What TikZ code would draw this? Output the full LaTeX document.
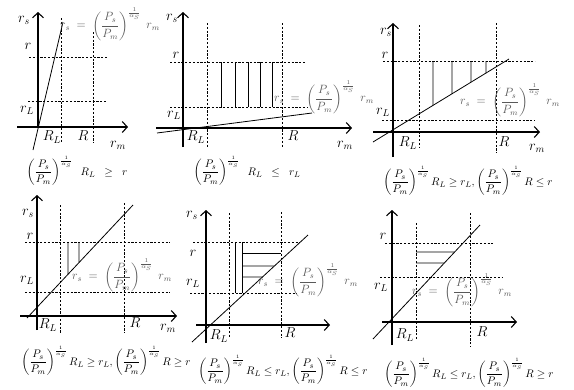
\documentclass[tikz,border=0pt]{standalone}
\usepackage{amsmath}
\usetikzlibrary{arrows.meta}
\tikzset{
  axis/.style={line width=1.1pt,-{Straight Barb[length=5pt,width=11pt,line width=1.1pt]}},
  guide/.style={line width=0.6pt,dash pattern=on 2.2pt off 1.6pt},
  curve/.style={line width=0.8pt},
  hatch/.style={line width=0.8pt},
  lab/.style={inner sep=0pt,font=\Large},
  eq/.style={inner sep=0pt,text=black!65,font=\fontsize{11.5}{13}\selectfont},
  cond/.style={inner sep=0pt,font=\fontsize{11}{13}\selectfont}
}
\newcommand{\rseq}{$r_s \;=\; \left(\dfrac{P_s}{P_m}\right)^{\frac{1}{\alpha_S}}\; r_m$}
\newcommand{\frc}{\left(\dfrac{P_s}{P_m}\right)^{\frac{1}{\alpha_S}}}
\begin{document}
\begin{tikzpicture}[x=1pt,y=-1pt]
\useasboundingbox (0,0) rectangle (574,389);
% ---------------- Panel 1
\draw[guide] (29,57) -- (107,57);
\draw[guide] (28,101) -- (107,101);
\draw[guide] (61,18) -- (61,143);
\draw[guide] (93,32) -- (93,143);
\draw[axis] (38,128) -- (38,12);
\draw[axis] (17,127) -- (128,127);
\coordinate (a1) at (33,150); \coordinate (b1) at (63,22);
\draw[curve] (a1) -- (b1);
\node[lab] (p1rs) at (24,20) {$r_s$};
\node[lab] (p1r) at (28,46) {$r$};
\node[lab] (p1rL) at (27,110) {$r_L$};
\node[lab] (p1RL) at (52,137) {$R_L$};
\node[lab] (p1R) at (83,136) {$R$};
\node[lab] (p1rm) at (118,145) {$r_m$};
\node[eq] (p1eq) at (110,24) {\rseq};
\node[cond] (p1c) at (77,171) {$\frc \;\; R_L \;\;\ge\;\; r$};
% ---------------- Panel 2
\draw[guide] (170,62) -- (305,62);
\draw[guide] (170,107) -- (308,107);
\draw[guide] (207,23) -- (207,148);
\draw[guide] (282,23) -- (282,148);
\foreach \x in {221,235,248,260,272} \draw[hatch] (\x,62) -- (\x,107);
\draw[axis] (183,147) -- (183,12);
\draw[axis] (156,128) -- (352,128);
\coordinate (a2) at (157,133); \coordinate (b2) at (312,113);
\draw[curve] (a2) -- (b2);
\node[lab] (p2rs) at (172,18) {$r_s$};
\node[lab] (p2r) at (176,55) {$r$};
\node[lab] (p2rL) at (174,115) {$r_L$};
\node[lab] (p2RL) at (196,137) {$R_L$};
\node[lab] (p2R) at (293,136) {$R$};
\node[lab] (p2rm) at (345,145) {$r_m$};
\node[eq] (p2eq) at (324,97) {\rseq};
\node[cond] (p2c) at (247,171) {$\frc \;\; R_L \;\;\le\;\; r_L$};
% ---------------- Panel 3
\draw[guide] (383,61) -- (535,61);
\draw[guide] (382,120) -- (535,120);
\draw[guide] (419,25) -- (419,147);
\draw[guide] (496,23) -- (496,153);
\coordinate (a3) at (373,142); \coordinate (b3) at (509,59);
\foreach \x in {433,452,471,486}
  \draw[hatch] (\x,61) -- (intersection of a3--b3 and {\x,61}--{\x,200});
\draw[axis] (393,157) -- (393,23);
\draw[axis] (373,132) -- (540,132);
\draw[curve] (a3) -- (b3);
\node[lab] (p3rs) at (386,32) {$r_s$};
\node[lab] (p3r) at (385,55) {$r$};
\node[lab] (p3rL) at (383,112) {$r_L$};
\node[lab] (p3RL) at (408,143) {$R_L$};
\node[lab] (p3R) at (504,142) {$R$};
\node[lab] (p3rm) at (537,148) {$r_m$};
\node[eq] (p3eq) at (510,100) {\rseq};
\node[cond] (p3c) at (468,181) {$\frc R_L \ge r_L, \frc R \le r$};
% ---------------- Panel 4
\draw[guide] (25,242) -- (170,242);
\draw[guide] (25,292) -- (170,292);
\draw[guide] (60,205) -- (60,333);
\draw[guide] (124,203) -- (124,333);
\coordinate (a4) at (27,318); \coordinate (b4) at (133,205);
\foreach \x in {68,79}
  \draw[hatch] (\x,242) -- (intersection of a4--b4 and {\x,242}--{\x,330});
\draw[axis] (37,330) -- (37,195);
\draw[axis] (20,316) -- (177,316);
\draw[curve] (a4) -- (b4);
\node[lab] (p4rs) at (28,213) {$r_s$};
\node[lab] (p4r) at (30,236) {$r$};
\node[lab] (p4rL) at (27,280) {$r_L$};
\node[lab] (p4RL) at (48,325) {$R_L$};
\node[lab] (p4R) at (135,323) {$R$};
\node[lab] (p4rm) at (168,328) {$r_m$};
\node[eq] (p4eq) at (122,275) {\rseq};
\node[cond] (p4c) at (106,361) {$\frc R_L \ge r_L, \frc R \ge r$};
% ---------------- Panel 5
\draw[guide] (193,242) -- (300,242);
\draw[guide] (190,293) -- (297,293);
\draw[guide] (229,213) -- (229,338);
\draw[guide] (281,212) -- (281,338);
\coordinate (a5) at (192,342); \coordinate (b5) at (308,235);
\draw[hatch] (235,242) -- (235,293);
\draw[hatch] (242,242) -- (242,293);
\draw[hatch] (242,253) -- (281,253);
\foreach \y in {266,277}
  \draw[hatch] (242,\y) -- (intersection of a5--b5 and {242,\y}--{330,\y});
\draw[axis] (206,343) -- (206,210);
\draw[axis] (196,325) -- (330,325);
\draw[curve] (a5) -- (b5);
\node[lab] (p5rs) at (192,215) {$r_s$};
\node[lab] (p5r) at (193,253) {$r$};
\node[lab] (p5rL) at (193,283) {$r_L$};
\node[lab] (p5RL) at (219,336) {$R_L$};
\node[lab] (p5R) at (290,333) {$R$};
\node[eq] (p5eq) at (308,280) {\rseq};
\node[cond] (p5c) at (283,370) {$\frc R_L \le r_L, \frc R \le r$};
% ---------------- Panel 6
\draw[guide] (385,243) -- (493,243);
\draw[guide] (380,277) -- (502,277);
\draw[guide] (416,223) -- (416,340);
\draw[guide] (470,213) -- (470,347);
\coordinate (a6) at (373,339); \coordinate (b6) at (480,225);
\foreach \y in {252,263}
  \draw[hatch] (416,\y) -- (intersection of a6--b6 and {416,\y}--{520,\y});
\draw[axis] (392,345) -- (392,210);
\draw[axis] (382,322) -- (517,322);
\draw[curve] (a6) -- (b6);
\node[lab] (p6r) at (383,236) {$r$};
\node[lab] (p6rL) at (381,287) {$r_L$};
\node[lab] (p6RL) at (405,335) {$R_L$};
\node[lab] (p6R) at (482,332) {$R$};
\node[eq] (p6eq) at (462,290) {\rseq};
\node[cond] (p6c) at (469,373) {$\frc R_L \le r_L, \frc R \ge r$};
\end{tikzpicture}
\end{document}
